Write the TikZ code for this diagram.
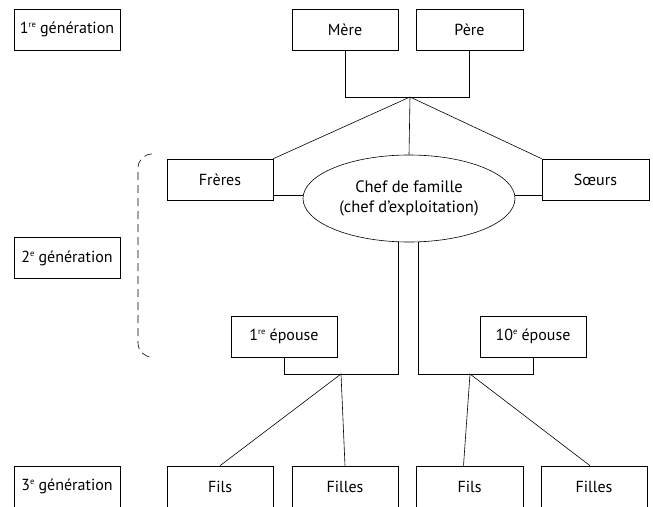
\documentclass[tikz,border=0pt]{standalone}
\usepackage{fontspec}
\setmainfont{PT Sans}
\usetikzlibrary{shapes.geometric}
\newcommand\expo[1]{\raisebox{0.75ex}{\fontsize{8.5}{8.5}\selectfont #1}}
\tikzset{
    boite/.style={draw, line width=0.6pt, minimum width=106pt, minimum height=41pt, inner sep=0pt, font=\fontsize{16}{18}\selectfont},
    trait/.style={line width=0.6pt},
}
\begin{document}
\begin{tikzpicture}[x=1pt,y=-1pt]
        \useasboundingbox (0,0) rectangle (653,506);

        % Générations (colonne de gauche)
        \node[boite] (gen1) at (67,29.5) {1\expo{re} génération};
        \node[boite] (gen2) at (67,258) {2\expo{e} génération};
        \node[boite] (gen3) at (67,486.5) {3\expo{e} génération};
        \draw[trait, dash pattern=on 8pt off 5pt] (152,154) to[out=180,in=90] (138,168) -- (138,343)
            to[out=-90,in=180] (152,357);

        % 1re génération : les parents
        \node[boite] (mere) at (345,29.5) {Mère};
        \node[boite, minimum width=107pt] (pere) at (469.5,29.5) {Père};
        \coordinate (jhaut) at (410,97);
        \draw[trait] (mere) -- (mere |- jhaut) -- (pere |- jhaut) -- (pere);

        % 2e génération
        \node[boite] (freres) at (220,179.5) {Frères};
        \node[boite, minimum width=107pt] (soeurs) at (595.5,179.5) {Sœurs};
        \node[draw, trait, ellipse, minimum width=212pt, minimum height=87pt, inner sep=0pt,
            align=center, font=\fontsize{16.5}{20}\selectfont] (chef) at (409,198.5)
            {Chef de famille\\(chef d’exploitation)};
        \draw[trait] (freres.north east) -- (jhaut) -- (soeurs.north west);
        \draw[trait] (jhaut) -- (chef.north);
        \draw[trait] (chef.178) -- (freres.east |- chef.178);
        \draw[trait] (chef.2) -- (soeurs.west |- chef.2);

        % Les épouses
        \node[boite] (ep1) at (284,336.5) {1\expo{re} épouse};
        \node[boite] (ep10) at (533,336.5) {10\expo{e} épouse};
        \coordinate (cg) at (398,374);
        \coordinate (cd) at (418,374);
        \coordinate (jg) at (341,374);
        \coordinate (jd) at (470,374);
        \draw[trait] (ep1) |- (cg) -- (cg |- chef.south);
        \draw[trait] (ep10) |- (cd) -- (cd |- chef.south);

        % 3e génération : les enfants
        \node[boite] (fils1) at (220,486.5) {Fils};
        \node[boite] (filles1) at (345,486.5) {Filles};
        \node[boite, minimum width=107pt] (fils2) at (469.5,486.5) {Fils};
        \node[boite] (filles2) at (594,486.5) {Filles};
        \draw[trait] (fils1.north) -- (jg) -- (filles1.north);
        \draw[trait] ([xshift=-6pt]fils2.north) -- (jd) -- ([xshift=-4pt]filles2.north);
    \end{tikzpicture}
\end{document}
